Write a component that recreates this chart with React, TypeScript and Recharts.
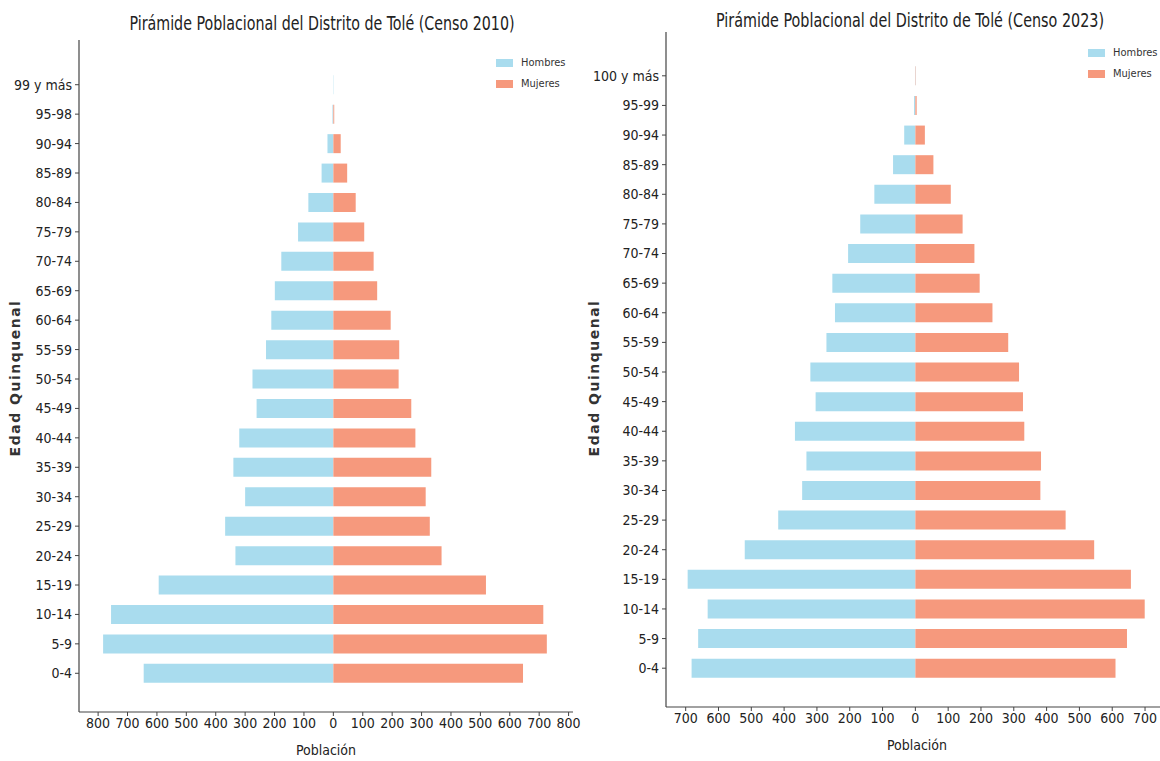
import { BarChart, Bar, XAxis, YAxis, Legend } from "recharts";

// Grupos quinquenales, de abajo (0-4) hacia arriba
const edades2010 = ["0-4", "5-9", "10-14", "15-19", "20-24", "25-29", "30-34", "35-39", "40-44", "45-49", "50-54", "55-59", "60-64", "65-69", "70-74", "75-79", "80-84", "85-89", "90-94", "95-98", "99 y más"];
const hombres2010 = [645, 783, 756, 594, 333, 368, 300, 340, 320, 261, 275, 229, 211, 199, 177, 120, 85, 40, 20, 3, 1];
const mujeres2010 = [645, 726, 714, 519, 368, 328, 314, 333, 279, 265, 222, 224, 195, 149, 137, 105, 76, 47, 25, 3, 0];

const edades2023 = ["0-4", "5-9", "10-14", "15-19", "20-24", "25-29", "30-34", "35-39", "40-44", "45-49", "50-54", "55-59", "60-64", "65-69", "70-74", "75-79", "80-84", "85-89", "90-94", "95-99", "100 y más"];
const hombres2023 = [682, 662, 633, 694, 520, 418, 345, 332, 367, 304, 320, 271, 245, 253, 205, 168, 125, 68, 34, 4, 1];
const mujeres2023 = [610, 645, 699, 657, 545, 458, 381, 383, 332, 328, 316, 283, 235, 196, 180, 144, 108, 55, 29, 4, 1];

const ticks2010 = [-800, -700, -600, -500, -400, -300, -200, -100, 0, 100, 200, 300, 400, 500, 600, 700, 800];
const ticks2023 = [-700, -600, -500, -400, -300, -200, -100, 0, 100, 200, 300, 400, 500, 600, 700];

const AZUL = "#a9dcee";
const SALMON = "#f6997d";
const EJE = "#444";
const NARROW = "'Liberation Sans Narrow', 'DejaVu Sans Condensed', 'Arial Narrow', sans-serif";

function Leyenda() {
  const fila = (color: string, txt: string) => (
    <div style={{ display: "flex", alignItems: "center", height: 21 }}>
      <span style={{ width: 17, height: 8, background: color, marginRight: 8 }} />
      <span style={{ fontFamily: NARROW, fontSize: 11, color: "#333" }}>{txt}</span>
    </div>
  );
  return (
    <div>
      {fila(AZUL, "Hombres")}
      {fila(SALMON, "Mujeres")}
    </div>
  );
}

// título comprimido a lo ancho, como en la imagen original
function Titulo({ x, y, ancho, children }: { x: number; y: number; ancho: number; children: string }) {
  const sx = 0.75;
  return (
    <text transform={`translate(${x},${y}) scale(${sx},1)`} textAnchor="middle" fontFamily={NARROW} fontSize={20} fill="#222"
      textLength={ancho / sx} lengthAdjust="spacingAndGlyphs">{children}</text>
  );
}

type Props = {
  edades: string[];
  hombres: number[];
  mujeres: number[];
  ticks: number[];
  domain: [number, number];
  width: number;
  margin: { top: number; right: number; bottom: number; left: number };
  yWidth: number;
  pad: { top: number; bottom: number };
  legendPos: { top: number; left: number };
};

function Piramide({ edades, hombres, mujeres, ticks, domain, width, margin, yWidth, pad, legendPos }: Props) {
  const data = edades.map((edad, i) => ({ edad, Hombres: -hombres[i], Mujeres: mujeres[i] }));
  const tick = { fontFamily: NARROW, fontSize: 14, fill: "#222" };
  return (
    <BarChart width={width} height={761} data={data} layout="vertical" stackOffset="sign" barCategoryGap="18%" margin={margin}>
      <XAxis type="number" domain={domain} ticks={ticks} allowDataOverflow
        tickFormatter={(v: number) => String(Math.abs(v))}
        tick={tick} tickSize={4} tickMargin={2} height={46}
        axisLine={{ stroke: EJE, strokeWidth: 1.2 }} tickLine={{ stroke: EJE }}
        label={{ value: "Población", position: "insideBottom", offset: 3, fontFamily: NARROW, fontSize: 14, fill: "#222" }} />
      <YAxis type="category" dataKey="edad" reversed width={yWidth} padding={pad}
        tick={tick} tickSize={4} tickMargin={3} interval={0}
        axisLine={{ stroke: EJE, strokeWidth: 1.2 }} tickLine={{ stroke: EJE }} />
      <Legend layout="horizontal" verticalAlign="middle" align="center" content={<Leyenda />}
        wrapperStyle={{ top: legendPos.top, left: legendPos.left, width: "auto", height: "auto" }} />
      <Bar dataKey="Hombres" stackId="p" fill={AZUL} isAnimationActive={false} />
      <Bar dataKey="Mujeres" stackId="p" fill={SALMON} isAnimationActive={false} />
    </BarChart>
  );
}

export default function App() {
  return (
    <div style={{ position: "absolute", left: 0, top: 0, width: 1160, height: 761, overflow: "hidden", background: "#fff" }}>
      <div style={{ position: "absolute", left: 0, top: 0 }}>
        <Piramide edades={edades2010} hombres={hombres2010} mujeres={mujeres2010} ticks={ticks2010}
          domain={[-865, 815]} width={600} yWidth={79}
          margin={{ top: 40, right: 27, bottom: 3, left: 0 }} pad={{ top: 30, bottom: 24 }}
          legendPos={{ top: 52, left: 496 }} />
      </div>
      <div style={{ position: "absolute", left: 580, top: 0 }}>
        <Piramide edades={edades2023} hombres={hombres2023} mujeres={mujeres2023} ticks={ticks2023}
          domain={[-760, 770]} width={600} yWidth={86}
          margin={{ top: 32, right: 12, bottom: 8, left: 0 }} pad={{ top: 29, bottom: 24 }}
          legendPos={{ top: 42, left: 508 }} />
      </div>
      <svg width={1160} height={761} style={{ position: "absolute", left: 0, top: 0, pointerEvents: "none" }}>
        <Titulo x={322} y={30} ancho={385}>Pirámide Poblacional del Distrito de Tolé (Censo 2010)</Titulo>
        <Titulo x={910} y={27} ancho={388}>Pirámide Poblacional del Distrito de Tolé (Censo 2023)</Titulo>
        <text transform="translate(20,378) rotate(-90)" textAnchor="middle" fontFamily="'DejaVu Sans', sans-serif"
          fontSize={14} fontWeight={700} letterSpacing={1.5} fill="#333">Edad Quinquenal</text>
        <text transform="translate(599,378) rotate(-90)" textAnchor="middle" fontFamily="'DejaVu Sans', sans-serif"
          fontSize={14} fontWeight={700} letterSpacing={1.5} fill="#333">Edad Quinquenal</text>
      </svg>
    </div>
  );
}
